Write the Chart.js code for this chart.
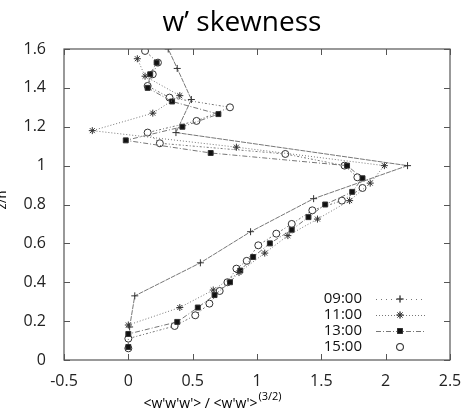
<!DOCTYPE html>
<html lang="en">
<head>
    <meta charset="UTF-8">
    <title>w' skewness</title>
    <script src="https://cdn.jsdelivr.net/npm/chart.js"></script>
    <style>
        html, body { margin: 0; padding: 0; background: #fff; }
        #wrap { width: 472px; height: 413px; }
    </style>
</head>
<body>
    <div id="wrap"><canvas id="skewChart" width="472" height="413"></canvas></div>

    <script>
        // values (x = skewness, y = z/h)
        const labels = ['09:00', '11:00', '13:00', '15:00'];

        const x0900 = [0.01, 0.05, 0.56, 0.95, 1.44, 2.17, 0.37, 0.49, 0.38, 0.31, 0.26];
        const y0900 = [0.17, 0.33, 0.50, 0.66, 0.83, 1.00, 1.17, 1.34, 1.50, 1.60, 1.67];

        const x1100 = [0.00, 0.40, 0.66, 0.86, 1.06, 1.24, 1.47, 1.72, 1.88, 1.99, 0.84, -0.28, 0.19, 0.40, 0.13, 0.07];
        const y1100 = [0.18, 0.27, 0.36, 0.45, 0.55, 0.64, 0.725, 0.82, 0.91, 1.00, 1.095, 1.18, 1.27, 1.36, 1.46, 1.55];

        const x1300 = [0.00, 0.00, 0.38, 0.54, 0.67, 0.79, 0.87, 0.97, 1.10, 1.27, 1.40, 1.53, 1.74, 1.82, 1.70, 0.64, -0.02, 0.42, 0.70, 0.34, 0.15, 0.17, 0.22];
        const y1300 = [0.067, 0.134, 0.196, 0.27, 0.334, 0.40, 0.46, 0.53, 0.60, 0.67, 0.735, 0.80, 0.865, 0.935, 1.00, 1.065, 1.13, 1.20, 1.265, 1.33, 1.40, 1.47, 1.53];

        const x1500 = [0.00, 0.00, 0.36, 0.52, 0.63, 0.71, 0.77, 0.84, 0.92, 1.01, 1.15, 1.27, 1.43, 1.66, 1.82, 1.78, 1.68, 1.22, 0.245, 0.15, 0.53, 0.79, 0.32, 0.15, 0.19, 0.23, 0.13];
        const y1500 = [0.06, 0.11, 0.175, 0.23, 0.29, 0.355, 0.40, 0.47, 0.51, 0.59, 0.65, 0.70, 0.77, 0.82, 0.885, 0.94, 1.00, 1.06, 1.115, 1.17, 1.23, 1.30, 1.35, 1.41, 1.47, 1.53, 1.59];

        const xTicks = [-0.5, 0, 0.5, 1, 1.5, 2, 2.5];
        const yTicks = [0, 0.2, 0.4, 0.6, 0.8, 1, 1.2, 1.4, 1.6];

        const pairs = (xs, ys) => xs.map((x, i) => ({ x: x, y: ys[i] }));

        const FONT = "'Open Sans', 'DejaVu Sans', sans-serif";

        const datasets = [
            { label: labels[0], data: pairs(x0900, y0900), pointStyle: 'cross', pointRadius: 3.5,
              borderDash: [5, 1], legendDash: [1, 4] },
            { label: labels[1], data: pairs(x1100, y1100), pointStyle: 'star', pointRadius: 3.5,
              borderDash: [1, 2], legendDash: [1, 2] },
            { label: labels[2], data: pairs(x1300, y1300), pointStyle: 'rect', pointRadius: 3.5,
              pointBackgroundColor: '#111', borderDash: [5, 2, 1, 2], legendDash: [5, 2, 1, 2] },
            { label: labels[3], data: pairs(x1500, y1500), pointStyle: 'circle', pointRadius: 3.5,
              pointBackgroundColor: '#fff', borderDash: [2, 2, 1, 2], legendDash: null }
        ];
        datasets.forEach(d => {
            d.showLine = true;
            d.borderColor = '#777';
            d.borderWidth = 1;
            d.pointBorderColor = '#333';
            d.pointBorderWidth = 1;
            if (!d.pointBackgroundColor) d.pointBackgroundColor = '#222';
        });

        // title, axis titles, frame, inner ticks, legend
        const decor = {
            id: 'decor',
            afterDraw(chart) {
                const ctx = chart.ctx;
                const a = chart.chartArea;
                const xs = chart.scales.x, ys = chart.scales.y;
                ctx.save();

                // frame
                ctx.strokeStyle = '#555';
                ctx.lineWidth = 1.2;
                ctx.strokeRect(a.left, a.top, a.right - a.left, a.bottom - a.top);

                // gnuplot style inner ticks
                ctx.lineWidth = 1;
                ctx.beginPath();
                xTicks.forEach(v => {
                    const px = Math.round(xs.getPixelForValue(v)) + 0.5;
                    ctx.moveTo(px, a.bottom); ctx.lineTo(px, a.bottom - 6);
                    ctx.moveTo(px, a.top); ctx.lineTo(px, a.top + 6);
                });
                yTicks.forEach(v => {
                    const py = Math.round(ys.getPixelForValue(v)) + 0.5;
                    ctx.moveTo(a.left, py); ctx.lineTo(a.left + 6, py);
                    ctx.moveTo(a.right, py); ctx.lineTo(a.right - 6, py);
                });
                ctx.stroke();

                // main title
                ctx.fillStyle = '#000';
                ctx.font = '28px ' + FONT;
                ctx.textAlign = 'center';
                ctx.textBaseline = 'alphabetic';
                ctx.fillText("w\u2019 skewness", 242, 31);

                // x title with superscript
                ctx.font = '14px ' + FONT;
                ctx.textAlign = 'left';
                const main = "<w'w'w'> / <w'w'>";
                const mw = ctx.measureText(main).width;
                ctx.font = '11px ' + FONT;
                const sup = '(3/2)';
                const sw = ctx.measureText(sup).width;
                const sx = 212 - (mw + sw) / 2;
                ctx.font = '14px ' + FONT;
                ctx.fillText(main, sx, 408);
                ctx.font = '11px ' + FONT;
                ctx.fillText(sup, sx + mw + 1, 400);

                // y title (partly off the left edge, as in the scan)
                ctx.save();
                ctx.translate(2, 200);
                ctx.rotate(-Math.PI / 2);
                ctx.font = '13px ' + FONT;
                ctx.textAlign = 'center';
                ctx.textBaseline = 'middle';
                ctx.fillText('z/h', 0, 0);
                ctx.restore();

                // legend: label, then line sample with marker
                chart.data.datasets.forEach((d, i) => {
                    const ly = 299 + i * 16;
                    ctx.font = '15px ' + FONT;
                    ctx.textAlign = 'right';
                    ctx.textBaseline = 'middle';
                    ctx.fillStyle = '#111';
                    ctx.fillText(d.label, 362, ly);
                    if (d.legendDash) {
                        ctx.strokeStyle = '#777';
                        ctx.setLineDash(d.legendDash);
                        ctx.beginPath();
                        ctx.moveTo(376, ly + 0.5); ctx.lineTo(426, ly + 0.5);
                        ctx.stroke();
                        ctx.setLineDash([]);
                    }
                    Chart.helpers.drawPoint(ctx, {
                        pointStyle: d.pointStyle, radius: d.pointRadius, rotation: 0,
                        borderWidth: 1
                    }, 400, ly);
                    ctx.fillStyle = d.pointBackgroundColor;
                    ctx.strokeStyle = d.pointBorderColor;
                    ctx.lineWidth = 1;
                    ctx.fill();
                    ctx.stroke();
                });

                ctx.restore();
            }
        };

        const ctx = document.getElementById('skewChart').getContext('2d');
        const skewChart = new Chart(ctx, {
            type: 'scatter',
            data: { datasets: datasets },
            options: {
                responsive: false,
                animation: false,
                layout: { padding: { top: 49, right: 22, left: 0, bottom: 0 } },
                plugins: {
                    legend: { display: false },
                    title: { display: false },
                    tooltip: { enabled: false }
                },
                scales: {
                    x: {
                        type: 'linear', min: -0.5, max: 2.5,
                        afterBuildTicks: s => { s.ticks = xTicks.map(v => ({ value: v })); },
                        afterFit: s => { s.height = 53; },
                        grid: { display: false },
                        border: { display: false },
                        ticks: { color: '#222', padding: 4, font: { size: 16, family: FONT },
                                 callback: v => String(v) }
                    },
                    y: {
                        type: 'linear', min: 0, max: 1.6,
                        afterBuildTicks: s => { s.ticks = yTicks.map(v => ({ value: v })); },
                        afterFit: s => { s.width = 64; },
                        grid: { display: false },
                        border: { display: false },
                        ticks: { color: '#222', padding: 10, font: { size: 16, family: FONT },
                                 callback: v => String(v) }
                    }
                }
            },
            plugins: [decor]
        });
    </script>
</body>
</html>
